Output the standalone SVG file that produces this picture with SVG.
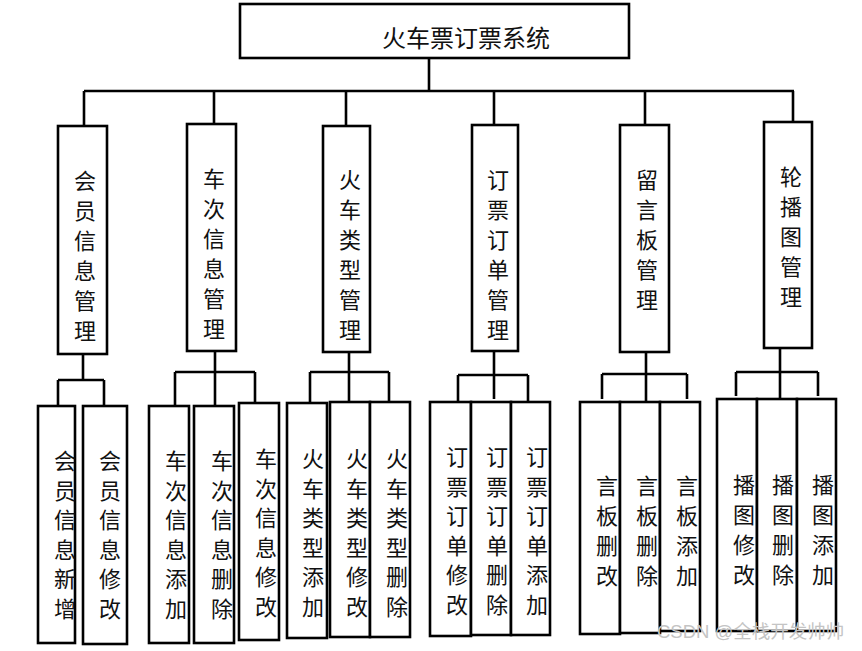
<svg xmlns="http://www.w3.org/2000/svg" width="862" height="651" viewBox="0 0 862 651">
<style>
.box{fill:#fff;stroke:#000;stroke-width:2.6}
.ln{fill:none;stroke:#000;stroke-width:2.6}
.t{font-family:"Noto Sans CJK SC","Noto Sans CJK JP",sans-serif;font-size:22px;text-anchor:middle;dominant-baseline:central;fill:#111}
.title{font-size:24px}
.wm{font-family:"Liberation Sans","Noto Sans CJK SC",sans-serif;font-size:18.5px;fill:#c4c4c4}
</style>
<rect width="862" height="651" fill="#fff"/>
<g id="connectors">
<path class="ln" d="M429,58V91M84,91H794M84,91V126M214,91V124M346,91V126M494,91V125M645,91V125M793,91V122"/>
<path class="ln" d="M83,354V380M58,380H104M58,380V406M104,380V406"/>
<path class="ln" d="M215,351V406M175,372H255M175,372V406M255,372V403"/>
<path class="ln" d="M349,352V402M310,372H389M310,372V403M389,372V402"/>
<path class="ln" d="M494,351V399M458,375H528M458,375V402M528,375V402"/>
<path class="ln" d="M646,352V402M602,374H687M602,374V399M687,374V399"/>
<path class="ln" d="M780,348V398M736,372H818M736,372V396M818,372V396"/>
</g>
<g id="root"><rect class="box" x="240" y="4" width="389" height="54"/><text class="t title" x="466" y="36">火车票订票系统</text></g>
<g id="n1"><rect class="box" x="58" y="126" width="49" height="228"/><text class="t"><tspan x="85" y="179">会</tspan><tspan x="85" y="209">员</tspan><tspan x="85" y="239">信</tspan><tspan x="85" y="269">息</tspan><tspan x="85" y="299">管</tspan><tspan x="85" y="329">理</tspan></text></g>
<g id="n2"><rect class="box" x="187" y="124" width="49" height="227"/><text class="t"><tspan x="214" y="177">车</tspan><tspan x="214" y="207">次</tspan><tspan x="214" y="237">信</tspan><tspan x="214" y="267">息</tspan><tspan x="214" y="297">管</tspan><tspan x="214" y="327">理</tspan></text></g>
<g id="n3"><rect class="box" x="323" y="126" width="47" height="226"/><text class="t"><tspan x="350" y="178">火</tspan><tspan x="350" y="208">车</tspan><tspan x="350" y="238">类</tspan><tspan x="350" y="268">型</tspan><tspan x="350" y="298">管</tspan><tspan x="350" y="328">理</tspan></text></g>
<g id="n4"><rect class="box" x="472" y="125" width="46" height="226"/><text class="t"><tspan x="498" y="178">订</tspan><tspan x="498" y="208">票</tspan><tspan x="498" y="238">订</tspan><tspan x="498" y="268">单</tspan><tspan x="498" y="298">管</tspan><tspan x="498" y="328">理</tspan></text></g>
<g id="n5"><rect class="box" x="620" y="125" width="49" height="227"/><text class="t"><tspan x="647" y="178">留</tspan><tspan x="647" y="208">言</tspan><tspan x="647" y="238">板</tspan><tspan x="647" y="268">管</tspan><tspan x="647" y="298">理</tspan></text></g>
<g id="n6"><rect class="box" x="764" y="122" width="48" height="226"/><text class="t"><tspan x="791" y="175">轮</tspan><tspan x="791" y="205">播</tspan><tspan x="791" y="235">图</tspan><tspan x="791" y="265">管</tspan><tspan x="791" y="295">理</tspan></text></g>
<g id="g1a"><rect class="box" x="38" y="406" width="37" height="237"/><text class="t"><tspan x="65" y="459">会</tspan><tspan x="65" y="489">员</tspan><tspan x="65" y="518">信</tspan><tspan x="65" y="548">息</tspan><tspan x="65" y="577">新</tspan><tspan x="65" y="607">增</tspan></text></g>
<g id="g1b"><rect class="box" x="83" y="406" width="44" height="238"/><text class="t"><tspan x="110" y="459">会</tspan><tspan x="110" y="489">员</tspan><tspan x="110" y="518">信</tspan><tspan x="110" y="548">息</tspan><tspan x="110" y="577">修</tspan><tspan x="110" y="607">改</tspan></text></g>
<g id="g2a"><rect class="box" x="149" y="406" width="40" height="237"/><text class="t"><tspan x="176" y="459">车</tspan><tspan x="176" y="489">次</tspan><tspan x="176" y="518">信</tspan><tspan x="176" y="548">息</tspan><tspan x="176" y="577">添</tspan><tspan x="176" y="607">加</tspan></text></g>
<g id="g2b"><rect class="box" x="194" y="406" width="40" height="237"/><text class="t"><tspan x="222" y="459">车</tspan><tspan x="222" y="489">次</tspan><tspan x="222" y="518">信</tspan><tspan x="222" y="548">息</tspan><tspan x="222" y="577">删</tspan><tspan x="222" y="607">除</tspan></text></g>
<g id="g2c"><rect class="box" x="239" y="403" width="40" height="237"/><text class="t"><tspan x="266" y="457">车</tspan><tspan x="266" y="487">次</tspan><tspan x="266" y="516">信</tspan><tspan x="266" y="546">息</tspan><tspan x="266" y="575">修</tspan><tspan x="266" y="605">改</tspan></text></g>
<g id="g3a"><rect class="box" x="287" y="403" width="40" height="235"/><text class="t"><tspan x="313" y="457">火</tspan><tspan x="313" y="487">车</tspan><tspan x="313" y="516">类</tspan><tspan x="313" y="546">型</tspan><tspan x="313" y="575">添</tspan><tspan x="313" y="605">加</tspan></text></g>
<g id="g3b"><rect class="box" x="330" y="402" width="40" height="235"/><text class="t"><tspan x="357" y="457">火</tspan><tspan x="357" y="487">车</tspan><tspan x="357" y="516">类</tspan><tspan x="357" y="546">型</tspan><tspan x="357" y="575">修</tspan><tspan x="357" y="605">改</tspan></text></g>
<g id="g3c"><rect class="box" x="370" y="402" width="40" height="235"/><text class="t"><tspan x="397" y="457">火</tspan><tspan x="397" y="487">车</tspan><tspan x="397" y="516">类</tspan><tspan x="397" y="546">型</tspan><tspan x="397" y="575">删</tspan><tspan x="397" y="605">除</tspan></text></g>
<g id="g4a"><rect class="box" x="430" y="402" width="41" height="234"/><text class="t"><tspan x="457" y="455">订</tspan><tspan x="457" y="485">票</tspan><tspan x="457" y="514">订</tspan><tspan x="457" y="544">单</tspan><tspan x="457" y="573">修</tspan><tspan x="457" y="603">改</tspan></text></g>
<g id="g4b"><rect class="box" x="471" y="402" width="40" height="233"/><text class="t"><tspan x="497" y="455">订</tspan><tspan x="497" y="485">票</tspan><tspan x="497" y="514">订</tspan><tspan x="497" y="544">单</tspan><tspan x="497" y="573">删</tspan><tspan x="497" y="603">除</tspan></text></g>
<g id="g4c"><rect class="box" x="511" y="402" width="39" height="233"/><text class="t"><tspan x="537" y="455">订</tspan><tspan x="537" y="485">票</tspan><tspan x="537" y="514">订</tspan><tspan x="537" y="544">单</tspan><tspan x="537" y="573">添</tspan><tspan x="537" y="603">加</tspan></text></g>
<g id="g5a"><rect class="box" x="580" y="402" width="40" height="232"/><text class="t"><tspan x="607" y="484">言</tspan><tspan x="607" y="514">板</tspan><tspan x="607" y="544">删</tspan><tspan x="607" y="574">改</tspan></text></g>
<g id="g5b"><rect class="box" x="620" y="402" width="40" height="231"/><text class="t"><tspan x="647" y="484">言</tspan><tspan x="647" y="514">板</tspan><tspan x="647" y="544">删</tspan><tspan x="647" y="574">除</tspan></text></g>
<g id="g5c"><rect class="box" x="660" y="402" width="40" height="229"/><text class="t"><tspan x="687" y="484">言</tspan><tspan x="687" y="514">板</tspan><tspan x="687" y="544">添</tspan><tspan x="687" y="574">加</tspan></text></g>
<g id="g6a"><rect class="box" x="717" y="399" width="40" height="232"/><text class="t"><tspan x="744" y="483">播</tspan><tspan x="744" y="513">图</tspan><tspan x="744" y="543">修</tspan><tspan x="744" y="573">改</tspan></text></g>
<g id="g6b"><rect class="box" x="757" y="399" width="40" height="232"/><text class="t"><tspan x="783" y="483">播</tspan><tspan x="783" y="513">图</tspan><tspan x="783" y="543">删</tspan><tspan x="783" y="573">除</tspan></text></g>
<g id="g6c"><rect class="box" x="797" y="399" width="39" height="232"/><text class="t"><tspan x="823" y="483">播</tspan><tspan x="823" y="513">图</tspan><tspan x="823" y="543">添</tspan><tspan x="823" y="573">加</tspan></text></g>
<text class="wm" x="657" y="638">CSDN @全栈开发帅帅</text>
</svg>
